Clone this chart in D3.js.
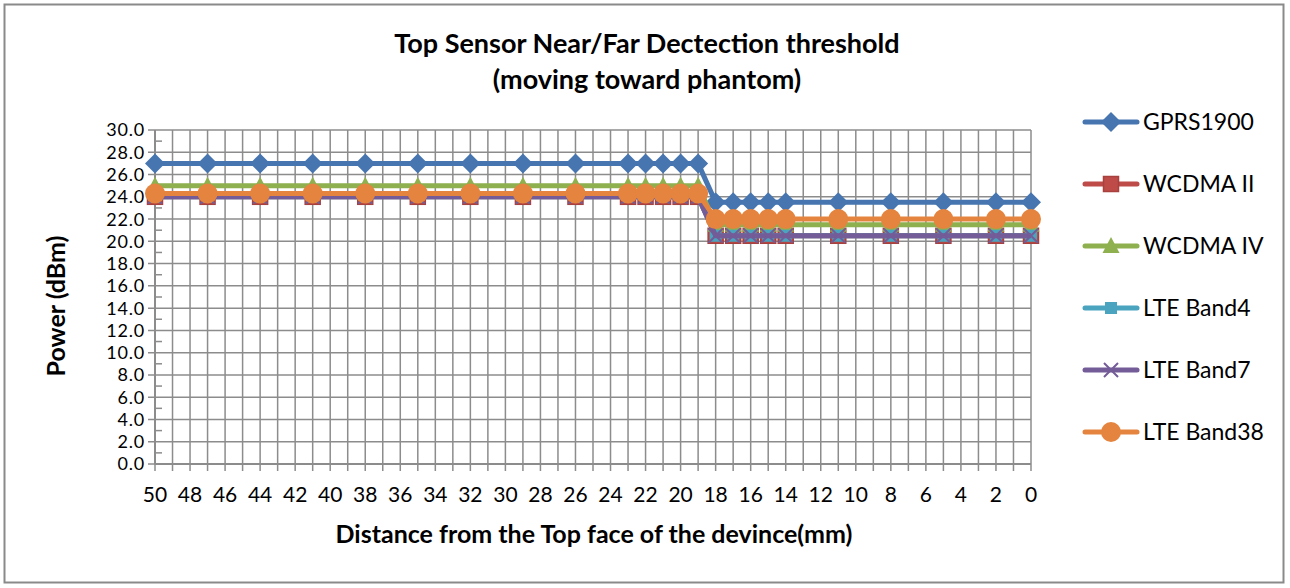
<!doctype html>
<html lang="en">
<head>
    <meta charset="UTF-8">
    <script src="https://cdnjs.cloudflare.com/ajax/libs/d3/7.8.5/d3.min.js"></script>
    <title>Top Sensor Near/Far Dectection threshold</title>
    <style>
        body { margin: 0; background: #fff; }
        text { font-family: Lato, "Open Sans", sans-serif; fill: #000; }
    </style>
</head>
<body>
<div id="viz_area"></div>

<script>
    // distances measured (mm), far to near
    const distances = [50, 47, 44, 41, 38, 35, 32, 29, 26, 23, 22, 21, 20, 19, 18, 17, 16, 15, 14, 11, 8, 5, 2, 0];

    // power (dBm) per band, same order as distances
    const gprs1900 = [27.0, 27.0, 27.0, 27.0, 27.0, 27.0, 27.0, 27.0, 27.0, 27.0, 27.0, 27.0, 27.0, 27.0,
        23.5, 23.5, 23.5, 23.5, 23.5, 23.5, 23.5, 23.5, 23.5, 23.5];
    const wcdmaII = [24.0, 24.0, 24.0, 24.0, 24.0, 24.0, 24.0, 24.0, 24.0, 24.0, 24.0, 24.0, 24.0, 24.0,
        20.5, 20.5, 20.5, 20.5, 20.5, 20.5, 20.5, 20.5, 20.5, 20.5];
    const wcdmaIV = [25.0, 25.0, 25.0, 25.0, 25.0, 25.0, 25.0, 25.0, 25.0, 25.0, 25.0, 25.0, 25.0, 25.0,
        21.5, 21.5, 21.5, 21.5, 21.5, 21.5, 21.5, 21.5, 21.5, 21.5];
    const lteBand4 = [24.0, 24.0, 24.0, 24.0, 24.0, 24.0, 24.0, 24.0, 24.0, 24.0, 24.0, 24.0, 24.0, 24.0,
        20.5, 20.5, 20.5, 20.5, 20.5, 20.5, 20.5, 20.5, 20.5, 20.5];
    const lteBand7 = [24.0, 24.0, 24.0, 24.0, 24.0, 24.0, 24.0, 24.0, 24.0, 24.0, 24.0, 24.0, 24.0, 24.0,
        20.5, 20.5, 20.5, 20.5, 20.5, 20.5, 20.5, 20.5, 20.5, 20.5];
    const lteBand38 = [24.3, 24.3, 24.3, 24.3, 24.3, 24.3, 24.3, 24.3, 24.3, 24.3, 24.3, 24.3, 24.3, 24.3,
        22.0, 22.0, 22.0, 22.0, 22.0, 22.0, 22.0, 22.0, 22.0, 22.0];

    const seriesNames = ["GPRS1900", "WCDMA II", "WCDMA IV", "LTE Band4", "LTE Band7", "LTE Band38"];
    const seriesValues = [gprs1900, wcdmaII, wcdmaIV, lteBand4, lteBand7, lteBand38];

    // x tick labels every 2 mm, y ticks every 2 dBm
    const xTickLabels = d3.range(50, -1, -2);
    const yTickLabels = d3.range(0, 31, 2);

    const colors = ["#4675b0", "#be4b48", "#8fb04f", "#4aa3bf", "#735c97", "#e5843e"];
    const shapes = ["diamond", "square", "triangle", "smallsquare", "cross", "circle"];

    const width = 1290, height = 588;
    const margin = {top: 130, right: 259, bottom: 124, left: 155};

    const svg = d3.select('#viz_area')
        .append("svg")
        .attr("width", width)
        .attr("height", height);

    // chart frame
    svg.append("rect")
        .attr("x", 4.5).attr("y", 4.5)
        .attr("width", 1279).attr("height", 578)
        .attr("fill", "#fff")
        .attr("stroke", "#8a8a8a")
        .attr("stroke-width", 2);

    const x = d3.scaleLinear().domain([50, 0]).range([margin.left, width - margin.right]);
    const y = d3.scaleLinear().domain([0, 30]).range([height - margin.bottom, margin.top]);

    const grid = svg.append("g");
    // vertical grid, one per mm
    grid.selectAll(".vg")
        .data(d3.range(0, 51))
        .join("line")
        .attr("x1", d => x(d)).attr("x2", d => x(d))
        .attr("y1", y(30)).attr("y2", y(0) + 7)
        .attr("stroke", "#8c8c8c")
        .attr("stroke-width", 1.5);
    // horizontal grid
    grid.selectAll(".hg")
        .data(yTickLabels)
        .join("line")
        .attr("x1", x(50) - 7).attr("x2", x(0))
        .attr("y1", d => y(d)).attr("y2", d => y(d))
        .attr("stroke", "#8c8c8c")
        .attr("stroke-width", 1.5);
    // minor ticks on y axis
    grid.selectAll(".mt")
        .data(d3.range(1, 30, 2))
        .join("line")
        .attr("x1", x(50)).attr("x2", x(50) + 7)
        .attr("y1", d => y(d)).attr("y2", d => y(d))
        .attr("stroke", "#8c8c8c")
        .attr("stroke-width", 1.5);

    // axis lines
    svg.append("line")
        .attr("x1", x(50)).attr("x2", x(50))
        .attr("y1", y(30)).attr("y2", y(0))
        .attr("stroke", "#8c8c8c").attr("stroke-width", 2);
    svg.append("line")
        .attr("x1", x(50)).attr("x2", x(0))
        .attr("y1", y(0)).attr("y2", y(0))
        .attr("stroke", "#8c8c8c").attr("stroke-width", 2);

    // tick labels
    svg.append("g").selectAll("text")
        .data(yTickLabels)
        .join("text")
        .attr("x", x(50) - 10)
        .attr("y", d => y(d))
        .attr("dy", "0.36em")
        .attr("text-anchor", "end")
        .style("font-size", "18px")
        .style("letter-spacing", "0.8px")
        .text(d => d.toFixed(1));

    svg.append("g").selectAll("text")
        .data(xTickLabels)
        .join("text")
        .attr("x", d => x(d))
        .attr("y", y(0) + 38)
        .attr("text-anchor", "middle")
        .style("font-size", "21px")
        .text(d => d);

    // titles
    svg.append("text")
        .attr("x", 647).attr("y", 53)
        .attr("text-anchor", "middle")
        .style("font-size", "27px").style("font-weight", "bold")
        .text("Top Sensor Near/Far Dectection threshold");
    svg.append("text")
        .attr("x", 647).attr("y", 89)
        .attr("text-anchor", "middle")
        .style("font-size", "27px").style("font-weight", "bold")
        .text("(moving toward phantom)");
    svg.append("text")
        .attr("x", 594).attr("y", 543)
        .attr("text-anchor", "middle")
        .style("font-size", "25px").style("font-weight", "bold")
        .text("Distance from the Top face of the devince(mm)");
    svg.append("text")
        .attr("transform", "translate(65,306) rotate(-90)")
        .attr("text-anchor", "middle")
        .style("font-size", "25px").style("font-weight", "bold")
        .text("Power (dBm)");

    function drawMarker(g, shape, color) {
        if (shape === "diamond") {
            g.append("path").attr("d", "M0,-10L10,0L0,10L-10,0Z").attr("fill", color);
        } else if (shape === "square") {
            g.append("rect").attr("x", -7.5).attr("y", -7.5).attr("width", 15).attr("height", 15)
                .attr("fill", color).attr("stroke", "#a8403d").attr("stroke-width", 1.5);
        } else if (shape === "triangle") {
            g.append("path").attr("d", "M0,-9L8.5,7L-8.5,7Z").attr("fill", color);
        } else if (shape === "smallsquare") {
            g.append("rect").attr("x", -6).attr("y", -6).attr("width", 12).attr("height", 12)
                .attr("fill", color);
        } else if (shape === "cross") {
            g.append("path").attr("d", "M-7,-7L7,7M7,-7L-7,7")
                .attr("stroke", color).attr("stroke-width", 2).attr("fill", "none");
        } else {
            g.append("circle").attr("r", 10).attr("fill", color);
        }
    }

    const line = d3.line()
        .x(d => x(d[0]))
        .y(d => y(d[1]));

    seriesValues.forEach((vals, i) => {
        const pts = distances.map((d, j) => [d, vals[j]]);
        const g = svg.append("g");
        g.append("path")
            .datum(pts)
            .attr("d", line)
            .attr("fill", "none")
            .attr("stroke", colors[i])
            .attr("stroke-width", 5)
            .attr("stroke-linejoin", "round");
        g.selectAll(".m")
            .data(pts)
            .join("g")
            .attr("transform", d => `translate(${x(d[0])},${y(d[1])})`)
            .each(function () { drawMarker(d3.select(this), shapes[i], colors[i]); });
    });

    // legend
    const legend = svg.append("g");
    seriesNames.forEach((name, i) => {
        const ly = 122 + i * 62;
        const lg = legend.append("g").attr("transform", `translate(0,${ly})`);
        lg.append("line")
            .attr("x1", 1085).attr("x2", 1137)
            .attr("y1", 0).attr("y2", 0)
            .attr("stroke", colors[i]).attr("stroke-width", 5)
            .attr("stroke-linecap", "round");
        drawMarker(lg.append("g").attr("transform", "translate(1111,0)"), shapes[i], colors[i]);
        lg.append("text")
            .attr("x", 1143).attr("y", 0)
            .attr("dy", "0.36em")
            .style("font-size", "23px")
            .text(name);
    });
</script>
</body>
</html>
